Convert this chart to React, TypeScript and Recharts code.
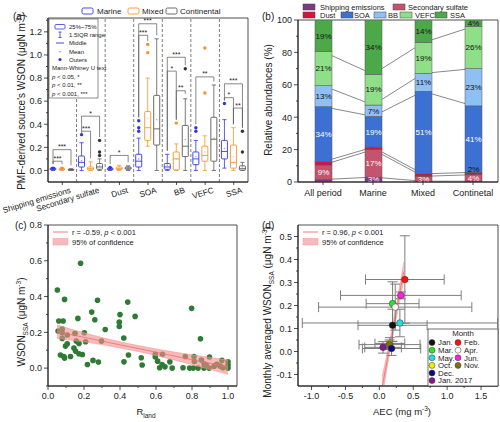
import React from "react";
import {
  ComposedChart,
  Bar,
  Line,
  Area,
  Scatter,
  XAxis,
  YAxis,
  ReferenceLine,
  ReferenceArea,
  ErrorBar,
} from "recharts";

const FONT = "Arial, 'Liberation Sans', Helvetica, sans-serif";
const INK = "#222";
const TICK_FS = 9;

// ---------- (a) source WSON box plots ----------
const sources = ["Shipping emissions", "Secondary sulfate", "Dust", "SOA", "BB", "VEFC", "SSA"];

const marineLo = [0, 0, 0, 0, 0, 0, 0.02];
const marineQ1 = [0.006, 0.03, 0.006, 0.03, 0.01, 0.05, 0.1];
const marineMed = [0.012, 0.07, 0.012, 0.08, 0.03, 0.1, 0.165];
const marineQ3 = [0.02, 0.125, 0.02, 0.14, 0.06, 0.16, 0.26];
const marineHi = [0.025, 0.24, 0.025, 0.28, 0.14, 0.26, 0.44];
const marineMean = [0.013, 0.085, 0.013, 0.1, 0.045, 0.12, 0.19];
const marineOut = [[0.02], [0.31], [0.025], [0.34, 0.37, 0.43], [], [0.34, 0.37], [0.58]];

const mixedLo = [0, 0, 0, 0.21, 0, 0, 0];
const mixedQ1 = [0.005, 0.005, 0.008, 0.26, 0.005, 0.08, 0.02];
const mixedMed = [0.01, 0.015, 0.015, 0.37, 0.1, 0.13, 0.07];
const mixedQ3 = [0.015, 0.03, 0.03, 0.51, 0.16, 0.21, 0.22];
const mixedHi = [0.025, 0.075, 0.045, 0.8, 0.23, 0.3, 0.37];
const mixedMean = [0.01, 0.02, 0.018, 0.45, 0.1, 0.16, 0.12];
const mixedOut = [[0.02], [], [], [1.02, 1.09], [0.41], [0.67, 1.06], []];

const contLo = [0, 0, 0, 0, 0, 0, 0];
const contQ1 = [0.002, 0.01, 0.01, 0.22, 0.12, 0.08, 0.002];
const contMed = [0.005, 0.03, 0.02, 0.36, 0.21, 0.27, 0.015];
const contQ3 = [0.01, 0.06, 0.03, 0.65, 0.39, 0.46, 0.04];
const contHi = [0.015, 0.1, 0.04, 1.14, 0.62, 0.74, 0.07];
const contMean = [0.006, 0.04, 0.02, 0.44, 0.27, 0.28, 0.03];
const contOut = [[], [0.13, 0.16, 0.26], [], [], [0.88], [], [0.16, 0.34]];

// [from series, to series, height, stars]
const sigBrackets = [
  [[0, 1, 0.08, "***"], [0, 2, 0.18, "***"]],
  [[0, 1, 0.34, "***"], [0, 2, 0.47, "*"]],
  [[0, 2, 0.13, "*"]],
  [[0, 1, 1.17, "***"], [0, 2, 1.27, "***"]],
  [[0, 1, 0.86, "*"], [0, 2, 0.98, "***"], [1, 2, 0.69, "**"]],
  [[0, 2, 0.81, "**"]],
  [[0, 1, 0.63, "*"], [0, 2, 0.75, "***"], [1, 2, 0.54, "**"]],
];

const aTicks = [0, 0.1, 0.2, 0.3, 0.4, 0.5, 0.6, 0.7, 0.8, 0.9, 1.0, 1.1, 1.2, 1.3];
const aMajor = [0, 0.2, 0.4, 0.6, 0.8, 1.0, 1.2];

const BOX_W = 6;
const BOX_GAP = 3;

const boxSeries = [
  { key: "marine", name: "Marine", color: "#3434e6", lo: marineLo, q1: marineQ1, med: marineMed, q3: marineQ3, hi: marineHi, mean: marineMean, out: marineOut },
  { key: "mixed", name: "Mixed", color: "#f7932b", lo: mixedLo, q1: mixedQ1, med: mixedMed, q3: mixedQ3, hi: mixedHi, mean: mixedMean, out: mixedOut },
  { key: "cont", name: "Continental", color: "#5a5a5a", lo: contLo, q1: contQ1, med: contMed, q3: contQ3, hi: contHi, mean: contMean, out: contOut },
];

const aData = sources.map((name, idx) => {
  const row: any = { name, idx };
  boxSeries.forEach((s) => {
    row[s.key] = [s.lo[idx], s.hi[idx]];
  });
  return row;
});

// ---------- (b) relative abundances ----------
const periods = ["All period", "Marine", "Mixed", "Continetal"];
const shippingPct = [1.5, 3, 0.5, 0.5];
const sulfatePct = [9, 17, 3, 4];
const dustPct = [2, 1.5, 1.5, 1.5];
const soaPct = [34, 19, 51, 41];
const bbPct = [13, 7, 11, 23];
const vefcPct = [21, 19, 19, 26];
const ssaPct = [19.5, 33.5, 14, 4];

const shippingTxt = ["", "3%", "", ""];
const sulfateTxt = ["9%", "17%", "3%", "4%"];
const dustTxt = ["", "", "", "2%"];
const soaTxt = ["34%", "19%", "51%", "41%"];
const bbTxt = ["13%", "7%", "11%", "23%"];
const vefcTxt = ["21%", "19%", "19%", "26%"];
const ssaTxt = ["19%", "34%", "14%", "4%"];

const bTicks = [0, 10, 20, 30, 40, 50, 60, 70, 80, 90, 100];
const bMajor = [0, 20, 40, 60, 80, 100];

const bParts = [
  { key: "ship", name: "Shipping emissions", vals: shippingPct, txt: shippingTxt, color: "#7a3b84", ink: "#fff" },
  { key: "sulf", name: "Secondary sulfate", vals: sulfatePct, txt: sulfateTxt, color: "#c25470", ink: "#fff" },
  { key: "dust", name: "Dust", vals: dustPct, txt: dustTxt, color: "#d3163d", ink: "#111" },
  { key: "soa", name: "SOA", vals: soaPct, txt: soaTxt, color: "#3c70d3", ink: "#fff" },
  { key: "bb", name: "BB", vals: bbPct, txt: bbTxt, color: "#8fc0f3", ink: "#111" },
  { key: "vefc", name: "VEFC", vals: vefcPct, txt: vefcTxt, color: "#8fdf89", ink: "#111" },
  { key: "ssa", name: "SSA", vals: ssaPct, txt: ssaTxt, color: "#4da84a", ink: "#111" },
];

const bData = periods.map((name, idx) => {
  const row: any = { name, idx };
  let cum = 0;
  bParts.forEach((p) => {
    cum += p.vals[idx];
    row[p.key] = p.vals[idx];
    row[p.key + "Top"] = cum;
  });
  return row;
});

// ---------- (c) WSON_SSA vs R_land ----------
const rLand = [
  0.052, 0.181, 0.06, 0.084, 0.092, 0.166, 0.275, 0.243, 0.26, 0.396, 0.396, 0.318, 0.443, 0.4, 0.484, 0.798,
  0.847, 0.056, 0.079, 0.079, 0.079, 0.107, 0.15, 0.202, 0.157, 0.209, 0.172, 0.297, 0.421, 0.097, 0.107, 0.144,
  0.153, 0.069, 0.088, 0.125, 0.172, 0.191, 0.092, 0.219, 0.25, 0.28, 0.447, 0.422, 0.518, 0.523, 0.596, 0.596,
  0.609, 0.62, 0.636, 0.634, 0.65, 0.677, 0.69, 0.75, 0.763, 0.787, 0.807, 0.834, 0.867, 0.895, 0.811, 0.813,
  0.852, 0.867, 0.879, 0.897, 0.923, 0.938, 0.957, 0.966, 0.972, 1.0, 1.0, 1.0,
];
const wsonSsa = [
  0.437, 0.586, 0.263, 0.263, 0.384, 0.278, 0.379, 0.313, 0.27, 0.257, 0.233, 0.216, 0.369, 0.299, 0.289, 0.334,
  0.164, 0.207, 0.198, 0.22, 0.166, 0.185, 0.194, 0.198, 0.151, 0.147, 0.138, 0.151, 0.168, 0.123, 0.136, 0.112,
  0.095, 0.073, 0.065, 0.065, 0.08, 0.076, 0.056, 0.02, 0.043, 0.034, 0.073, 0.035, 0.058, 0.017, 0.077, 0.062,
  0.039, 0.002, 0.077, 0.02, 0.007, 0.035, 0, 0.002, 0.065, 0, 0, 0, 0, 0, 0.065, 0.037,
  0.045, 0.024, 0.019, 0.062, 0.011, 0.022, 0.011, 0.043, 0.002, 0.035, 0.017, 0,
];
const cFitX = [0.05, 0.2, 0.4, 0.6, 0.8, 1.0];
const cFitY = [0.203, 0.172, 0.13, 0.089, 0.047, 0.005];
const cBandLo = [0.165, 0.147, 0.113, 0.071, 0.02, -0.035];
const cBandHi = [0.241, 0.197, 0.147, 0.107, 0.074, 0.045];
const cxTicks = [0, 0.1, 0.2, 0.3, 0.4, 0.5, 0.6, 0.7, 0.8, 0.9, 1.0];
const cxMajor = [0, 0.2, 0.4, 0.6, 0.8, 1.0];
const cyTicks = [-0.1, 0, 0.1, 0.2, 0.3, 0.4, 0.5, 0.6, 0.7, 0.8];
const cyMajor = [0, 0.2, 0.4, 0.6, 0.8];

const cPoints = rLand.map((x, i) => ({ x, y: wsonSsa[i] }));
const cBand = cFitX.map((x, i) => ({ x, fit: cFitY[i], range: [cBandLo[i], cBandHi[i]] }));

// ---------- (d) monthly WSON_SSA vs AEC ----------
const months = ["Jan.", "Feb.", "Mar.", "Apr.", "May.", "Jun.", "Oct.", "Nov.", "Dec.", "Jan. 2017"];
const monthColors = ["#111111", "#ff1010", "#22e822", "#ffffff", "#22dede", "#ff22dd", "#eeee00", "#7a7410", "#0c0c80", "#86198a"];
const aecMean = [0.195, 0.376, 0.195, 0.234, 0.303, 0.317, 0.155, 0.15, 0.18, 0.055];
const aecSd = [0.51, 0.58, 0.39, 1.13, 1.44, 0.89, 0.22, 0.45, 0.43, 0.27];
const wsonMean = [0.114, 0.313, 0.208, 0.193, 0.124, 0.244, 0.035, 0.03, 0.013, 0.018];
const wsonSd = [0.07, 0.19, 0.095, 0.1, 0.06, 0.015, 0.025, 0.02, 0.03, 0.025];
const dFitX = [0.04, 0.1, 0.17, 0.25, 0.36];
const dFitY = [-0.158, -0.063, 0.047, 0.174, 0.348];
const dBandLo = [-0.208, -0.098, 0.022, 0.144, 0.308];
const dBandHi = [-0.108, -0.028, 0.072, 0.204, 0.388];
const dxTicks = [-1, -0.75, -0.5, -0.25, 0, 0.25, 0.5, 0.75, 1, 1.25, 1.5];
const dxMajor = [-1, -0.5, 0, 0.5, 1, 1.5];
const dyTicks = [-0.1, -0.05, 0, 0.05, 0.1, 0.15, 0.2, 0.25, 0.3, 0.35, 0.4, 0.45, 0.5];
const dyMajor = [-0.1, 0, 0.1, 0.2, 0.3, 0.4, 0.5];
// legend layout: left column and right column of the Month box
const monthLeftCol = ["Jan.", "Mar.", "May.", "Oct.", "Dec.", "Jan. 2017"];
const monthRightCol = ["Feb.", "Apr.", "Jun.", "Nov."];

const dPoints = months.map((m, i) => ({
  month: m,
  color: monthColors[i],
  x: aecMean[i],
  y: wsonMean[i],
  ex: aecSd[i],
  ey: wsonSd[i],
}));
const dBand = dFitX.map((x, i) => ({ x, fit: dFitY[i], range: [dBandLo[i], dBandHi[i]] }));

// ---------- shared pieces ----------
const isMajor = (majors: number[], v: number) => majors.some((m) => Math.abs(m - v) < 1e-9);
const fmt1 = (v: number) => v.toFixed(1);

function YTick(props: any) {
  const { x, y, payload, majors, fmt } = props;
  const v = payload.value;
  const major = isMajor(majors, v);
  return (
    <g>
      <line x1={x - (major ? 4 : 2)} x2={x} y1={y} y2={y} stroke={INK} strokeWidth={0.8} />
      {major && (
        <text x={x - 6} y={y + 3.3} textAnchor="end" fontSize={TICK_FS} fill={INK} fontFamily={FONT}>
          {fmt(v)}
        </text>
      )}
    </g>
  );
}

function XTick(props: any) {
  const { x, y, payload, majors, fmt } = props;
  const v = payload.value;
  const major = isMajor(majors, v);
  return (
    <g>
      <line x1={x} x2={x} y1={y} y2={y + (major ? 4 : 2)} stroke={INK} strokeWidth={0.8} />
      {major && (
        <text x={x} y={y + 13} textAnchor="middle" fontSize={TICK_FS} fill={INK} fontFamily={FONT}>
          {fmt(v)}
        </text>
      )}
    </g>
  );
}

function CatTickA(props: any) {
  const { x, y, payload } = props;
  const tx = x + 9;
  const ty = y + 10.5;
  return (
    <g>
      <line x1={x} x2={x} y1={y} y2={y + 3} stroke={INK} strokeWidth={0.8} />
      <text x={tx} y={ty} textAnchor="end" transform={`rotate(-17 ${tx} ${ty})`} fontSize={8.2} fill={INK} fontFamily={FONT}>
        {payload.value}
      </text>
    </g>
  );
}

function CatTickB(props: any) {
  const { x, y, payload } = props;
  return (
    <g>
      <line x1={x} x2={x} y1={y} y2={y + 3} stroke={INK} strokeWidth={0.8} />
      <text x={x} y={y + 14} textAnchor="middle" fontSize={9} fill={INK} fontFamily={FONT}>
        {payload.value}
      </text>
    </g>
  );
}

function BoxShape(props: any) {
  const { x, y, width, height, payload, s } = props;
  const ser = boxSeries[s];
  const i = payload.idx;
  const lo = ser.lo[i];
  const hi = ser.hi[i];
  const top = Math.min(y, y + height);
  const span = Math.abs(height);
  const py = (v: number) => top + ((hi - v) / (hi - lo)) * span;
  const cx = x + width / 2;
  const cap = width * 0.35;
  const yHi = py(hi);
  const yLo = py(lo);
  const yQ3 = py(ser.q3[i]);
  const yQ1 = py(ser.q1[i]);
  const yMed = py(ser.med[i]);
  const yMean = py(ser.mean[i]);
  const c = ser.color;

  const brackets: any[] = [];
  if (s === boxSeries.length - 1) {
    const n = boxSeries.length;
    const centers = boxSeries.map((_, k) => cx - (n - 1 - k) * (BOX_W + BOX_GAP));
    const tops = boxSeries.map((b) => Math.max(b.hi[i], ...b.out[i]));
    sigBrackets[i].forEach((br: any, k: number) => {
      const [a, b, v, lab] = br;
      const yb = py(v);
      const legA = Math.max(py(tops[a] + 0.03), yb + 3);
      const legB = Math.max(py(tops[b] + 0.03), yb + 3);
      brackets.push(
        <g key={`br${k}`}>
          <path
            d={`M${centers[a]},${legA} V${yb} H${centers[b]} V${legB}`}
            fill="none"
            stroke="#555"
            strokeWidth={0.7}
          />
          <text x={(centers[a] + centers[b]) / 2} y={yb - 0.5} textAnchor="middle" fontSize={7} fill={INK} fontFamily={FONT}>
            {lab}
          </text>
        </g>
      );
    });
  }

  return (
    <g>
      <line x1={cx} x2={cx} y1={yHi} y2={yQ3} stroke={c} strokeWidth={0.8} />
      <line x1={cx} x2={cx} y1={yQ1} y2={yLo} stroke={c} strokeWidth={0.8} />
      <line x1={cx - cap} x2={cx + cap} y1={yHi} y2={yHi} stroke={c} strokeWidth={0.8} />
      <line x1={cx - cap} x2={cx + cap} y1={yLo} y2={yLo} stroke={c} strokeWidth={0.8} />
      <rect x={x} y={yQ3} width={width} height={Math.max(yQ1 - yQ3, 0.6)} rx={0.8} fill="#fff" stroke={c} strokeWidth={0.9} />
      <line x1={x} x2={x + width} y1={yMed} y2={yMed} stroke={c} strokeWidth={0.9} />
      <rect x={cx - 0.7} y={yMean - 0.7} width={1.4} height={1.4} fill={c} opacity={0.45} />
      {ser.out[i].map((o: number, k: number) => (
        <circle key={k} cx={cx} cy={py(o)} r={1.7} fill={s === 2 ? "#333" : c} />
      ))}
      {brackets}
    </g>
  );
}

function SegShape(props: any) {
  const { x, y, width, height, payload, partIdx } = props;
  const part = bParts[partIdx];
  const h = Math.abs(height);
  const top = Math.min(y, y + height);
  const labels: any[] = [];
  if (partIdx === bParts.length - 1) {
    // all segment labels are placed from the top segment so none is hidden under a later bar
    const ppu = h / payload[part.key];
    const base = top + h + payload[bParts[partIdx - 1].key + "Top"] * ppu;
    bParts.forEach((p, k) => {
      const t = p.txt[payload.idx];
      if (!t) return;
      const segH = payload[p.key] * ppu;
      const segTop = base - payload[p.key + "Top"] * ppu;
      const cy = segH < 4 ? segTop - 3.2 : segTop + segH / 2;
      labels.push(
        <text key={k} x={x + width / 2} y={cy + 2.8} textAnchor="middle" fontSize={8} fill={p.ink} fontFamily={FONT}>
          {t}
        </text>
      );
    });
  }
  return (
    <g>
      <rect x={x} y={top} width={width} height={h} fill={part.color} stroke="#555" strokeWidth={0.5} />
      {labels}
    </g>
  );
}

function PanelA() {
  // svg is a bit taller than the panel so the slanted category names are not clipped
  return (
    <ComposedChart width={250} height={224} data={aData} margin={{ top: 18, right: 2, bottom: 0, left: 8 }} barGap={BOX_GAP}>
      <XAxis dataKey="name" height={42} interval={0} tickSize={0} tickMargin={0} tickLine={false} stroke={INK} tick={(p: any) => <CatTickA {...p} />} />
      <YAxis
        width={40}
        domain={[-0.1, 1.32]}
        allowDataOverflow
        ticks={aTicks}
        interval={0}
        tickSize={0}
        tickMargin={0}
        tickLine={false}
        stroke={INK}
        tick={(p: any) => <YTick {...p} majors={aMajor} fmt={fmt1} />}
      />
      <ReferenceArea y1={-0.1} y2={1.32} fill="none" stroke={INK} strokeWidth={0.8} />
      {sources.slice(0, -1).map((s) => (
        <ReferenceLine key={s} x={s} position="end" stroke="#444" strokeDasharray="3 2" strokeWidth={0.7} />
      ))}
      {boxSeries.map((s, k) => (
        <Bar key={s.key} dataKey={s.key} barSize={BOX_W} isAnimationActive={false} shape={(p: any) => <BoxShape {...p} s={k} />} />
      ))}
    </ComposedChart>
  );
}

function PanelB() {
  return (
    <ComposedChart width={250} height={211} data={bData} margin={{ top: 20, right: 2, bottom: 0, left: 8 }}>
      <XAxis dataKey="name" height={29} interval={0} tickSize={0} tickMargin={0} tickLine={false} stroke={INK} tick={(p: any) => <CatTickB {...p} />} />
      <YAxis
        width={40}
        domain={[0, 100]}
        allowDataOverflow
        ticks={bTicks}
        interval={0}
        tickSize={0}
        tickMargin={0}
        tickLine={false}
        stroke={INK}
        tick={(p: any) => <YTick {...p} majors={bMajor} fmt={(v: number) => String(v)} />}
      />
      <ReferenceArea y1={0} y2={100} fill="none" stroke={INK} strokeWidth={0.8} />
      {bParts.slice(0, -1).map((p) => (
        <Line
          key={p.key + "Line"}
          dataKey={p.key + "Top"}
          stroke="#6a6a6a"
          strokeWidth={0.8}
          dot={false}
          activeDot={false}
          isAnimationActive={false}
          zIndex={250}
        />
      ))}
      {bParts.map((p, k) => (
        <Bar
          key={p.key}
          dataKey={p.key}
          stackId="s"
          barSize={17}
          fill={p.color}
          isAnimationActive={false}
          shape={(sp: any) => <SegShape {...sp} partIdx={k} />}
        />
      ))}
    </ComposedChart>
  );
}

function PanelC() {
  return (
    <ComposedChart width={250} height={211} margin={{ top: 14, right: 13, bottom: 0, left: 8 }}>
      <XAxis
        type="number"
        dataKey="x"
        domain={[0, 1.05]}
        allowDataOverflow
        ticks={cxTicks}
        interval={0}
        height={36}
        tickSize={0}
        tickMargin={0}
        tickLine={false}
        stroke={INK}
        tick={(p: any) => <XTick {...p} majors={cxMajor} fmt={fmt1} />}
      />
      <YAxis
        type="number"
        dataKey="y"
        width={40}
        domain={[-0.1, 0.8]}
        allowDataOverflow
        ticks={cyTicks}
        interval={0}
        tickSize={0}
        tickMargin={0}
        tickLine={false}
        stroke={INK}
        tick={(p: any) => <YTick {...p} majors={cyMajor} fmt={fmt1} />}
      />
      <ReferenceArea x1={0} x2={1.05} y1={-0.1} y2={0.8} fill="none" stroke={INK} strokeWidth={0.8} />
      <Scatter
        data={cPoints}
        dataKey="y"
        isAnimationActive={false}
        zIndex={300}
        shape={(p: any) => <circle cx={p.cx} cy={p.cy} r={2.8} fill="#2d7b34" />}
      />
      <Area
        data={cBand}
        dataKey="range"
        type="monotone"
        fill="#f28a8a"
        fillOpacity={0.6}
        stroke="#f29a9a"
        strokeWidth={0.6}
        isAnimationActive={false}
        zIndex={700}
      />
      <Line data={cBand} dataKey="fit" type="linear" stroke="#ef6f6f" strokeWidth={0.8} dot={false} activeDot={false} isAnimationActive={false} zIndex={710} />
    </ComposedChart>
  );
}

function PanelD() {
  return (
    <ComposedChart width={250} height={211} margin={{ top: 14, right: 2, bottom: 0, left: 8 }}>
      <XAxis
        type="number"
        dataKey="x"
        domain={[-1.2, 1.75]}
        allowDataOverflow
        ticks={dxTicks}
        interval={0}
        height={36}
        tickSize={0}
        tickMargin={0}
        tickLine={false}
        stroke={INK}
        tick={(p: any) => <XTick {...p} majors={dxMajor} fmt={fmt1} />}
      />
      <YAxis
        type="number"
        dataKey="y"
        width={40}
        domain={[-0.15, 0.55]}
        allowDataOverflow
        ticks={dyTicks}
        interval={0}
        tickSize={0}
        tickMargin={0}
        tickLine={false}
        stroke={INK}
        tick={(p: any) => <YTick {...p} majors={dyMajor} fmt={fmt1} />}
      />
      <ReferenceArea x1={-1.2} x2={1.75} y1={-0.15} y2={0.55} fill="none" stroke={INK} strokeWidth={0.8} />
      <Area
        data={dBand}
        dataKey="range"
        type="monotone"
        fill="#f28a8a"
        fillOpacity={0.6}
        stroke="#f29a9a"
        strokeWidth={0.5}
        isAnimationActive={false}
      />
      <Line data={dBand} dataKey="fit" type="linear" stroke="#ef6f6f" strokeWidth={0.8} dot={false} activeDot={false} isAnimationActive={false} />
      <Scatter
        data={dPoints}
        dataKey="y"
        isAnimationActive={false}
        shape={(p: any) => <circle cx={p.cx} cy={p.cy} r={3.3} fill={p.payload.color} stroke="#333" strokeWidth={0.5} />}
      >
        <ErrorBar dataKey="ex" direction="x" width={5} stroke="#7d7d7d" strokeWidth={1} />
        <ErrorBar dataKey="ey" direction="y" width={5} stroke="#7d7d7d" strokeWidth={1} />
      </Scatter>
    </ComposedChart>
  );
}

function MonthKey({ name, cx, cy }: { name: string; cx: number; cy: number }) {
  const i = months.indexOf(name);
  return (
    <g>
      <circle cx={cx} cy={cy} r={3} fill={monthColors[i]} stroke="#333" strokeWidth={0.5} />
      <text x={cx + 6} y={cy + 2.7} fontSize={7.8} fontFamily={FONT} fill={INK}>
        {name}
      </text>
    </g>
  );
}

function Overlay() {
  const t = { fontFamily: FONT, fill: INK };
  return (
    <svg width={500} height={422} style={{ position: "absolute", left: 0, top: 0, pointerEvents: "none" }}>
      {/* panel tags */}
      <text x={13} y={20} fontSize={10} {...t}>(a)</text>
      <text x={262} y={20} fontSize={10} {...t}>(b)</text>
      <text x={15} y={229} fontSize={10} {...t}>(c)</text>
      <text x={262} y={229} fontSize={10} {...t}>(d)</text>

      {/* axis titles */}
      <text transform="translate(25,102) rotate(-90)" textAnchor="middle" fontSize={10} {...t}>
        PMF-derived source's WSON (μgN m<tspan dy={-4} fontSize={6.5}>-3</tspan>
        <tspan dy={4}>)</tspan>
      </text>
      <text transform="translate(272,100) rotate(-90)" textAnchor="middle" fontSize={10} {...t}>
        Relative abundances (%)
      </text>
      <text transform="translate(25,322) rotate(-90)" textAnchor="middle" fontSize={10} {...t}>
        WSON<tspan dy={3} fontSize={6.5}>SSA</tspan>
        <tspan dy={-3}> (μgN m</tspan>
        <tspan dy={-4} fontSize={6.5}>-3</tspan>
        <tspan dy={4}>)</tspan>
      </text>
      <text transform="translate(271,312) rotate(-90)" textAnchor="middle" fontSize={10} {...t}>
        Monthly averaged WSON<tspan dy={3} fontSize={6.5}>SSA</tspan>
        <tspan dy={-3}> (μgN m</tspan>
        <tspan dy={-4} fontSize={6.5}>-3</tspan>
        <tspan dy={4}>)</tspan>
      </text>
      <text x={146} y={415} textAnchor="middle" fontSize={9.5} {...t}>
        R<tspan dy={3} fontSize={6.5}>land</tspan>
      </text>
      <text x={402} y={415} textAnchor="middle" fontSize={9.5} {...t}>
        AEC  (mg m<tspan dy={-4} fontSize={6.5}>-3</tspan>
        <tspan dy={4}>)</tspan>
      </text>

      {/* (a) top legend */}
      {[
        [82, 97],
        [128, 142],
        [166, 180],
      ].map(([ix, tx], k) => (
        <g key={k}>
          <rect x={ix} y={8} width={11} height={6} rx={1.5} fill="#fff" stroke={boxSeries[k].color} strokeWidth={0.9} />
          <text x={tx} y={13.7} fontSize={8} {...t}>{boxSeries[k].name}</text>
        </g>
      ))}

      {/* (a) inner legend */}
      <rect x={49} y={19} width={49} height={79} fill="#fff" stroke="#444" strokeWidth={0.6} />
      <rect x={55} y={24.5} width={10} height={4.5} rx={1} fill="#fff" stroke="#3434e6" strokeWidth={0.8} />
      <path d="M58.5,32 H61.5 M60,32 V37.5 M58.5,37.5 H61.5" stroke="#3434e6" strokeWidth={0.8} fill="none" />
      <line x1={56} x2={64} y1={43} y2={43} stroke="#3434e6" strokeWidth={0.9} />
      <rect x={59.3} y={51} width={1.4} height={1.4} fill="#9a9ad8" />
      <circle cx={60} cy={59.5} r={1.6} fill="#3434e6" />
      <text x={69} y={29} fontSize={6} {...t}>25%~75%</text>
      <text x={69} y={37} fontSize={6} {...t}>1.5IQR range</text>
      <text x={69} y={45.2} fontSize={6} {...t}>Middle</text>
      <text x={69} y={53.5} fontSize={6} {...t}>Mean</text>
      <text x={69} y={61.8} fontSize={6} {...t}>Outers</text>
      <text x={52} y={70} fontSize={6} {...t}>Mann-Whiney U text</text>
      <text x={52} y={78.5} fontSize={6} {...t}><tspan fontStyle="italic">p</tspan> &lt; 0.05, *</text>
      <text x={52} y={87} fontSize={6} {...t}><tspan fontStyle="italic">p</tspan> &lt; 0.01, **</text>
      <text x={52} y={95.5} fontSize={6} {...t}><tspan fontStyle="italic">p</tspan> &lt; 0.001, ***</text>

      {/* (b) legend */}
      {[
        [0, 303, 320, 4],
        [1, 393, 408, 4],
        [2, 303, 320, 12],
        [3, 341, 354, 12],
        [4, 374, 388, 12],
        [5, 400, 415, 12],
        [6, 435, 450, 12],
      ].map(([k, ix, tx, yy]) => (
        <g key={k}>
          <rect x={ix} y={yy} width={12} height={6} fill={bParts[k].color} stroke="#444" strokeWidth={0.5} />
          <text x={tx} y={yy + 5.8} fontSize={7.5} {...t}>{bParts[k].name}</text>
        </g>
      ))}

      {/* (c) legend */}
      <line x1={53} x2={68} y1={232} y2={232} stroke="#ef6f6f" strokeWidth={0.9} />
      <text x={72} y={234.7} fontSize={7.5} {...t}>
        r = -0.59, <tspan fontStyle="italic">p</tspan> &lt; 0.001
      </text>
      <rect x={53} y={238.5} width={15} height={6.5} fill="#f28a8a" fillOpacity={0.6} stroke="#f29a9a" strokeWidth={0.5} />
      <text x={72} y={244.5} fontSize={7.5} {...t}>95% of confidence</text>

      {/* (d) legend */}
      <line x1={303} x2={318} y1={232} y2={232} stroke="#ef6f6f" strokeWidth={0.9} />
      <text x={322} y={234.7} fontSize={7.5} {...t}>
        r = 0.96, <tspan fontStyle="italic">p</tspan> &lt; 0.001
      </text>
      <rect x={303} y={238.5} width={15} height={6.5} fill="#f28a8a" fillOpacity={0.6} stroke="#f29a9a" strokeWidth={0.5} />
      <text x={322} y={244.5} fontSize={7.5} {...t}>95% of confidence</text>

      {/* (d) month box */}
      <rect x={428} y={329} width={70} height={57} fill="#fff" stroke="#333" strokeWidth={0.7} />
      <text x={463} y={335.8} textAnchor="middle" fontSize={7.8} {...t}>Month</text>
      {monthLeftCol.map((m, r) => (
        <MonthKey key={m} name={m} cx={432} cy={342.6 + r * 7.6} />
      ))}
      {monthRightCol.map((m, r) => (
        <MonthKey key={m} name={m} cx={458} cy={342.6 + r * 7.6} />
      ))}
    </svg>
  );
}

export default function App() {
  return (
    <div style={{ position: "absolute", left: 0, top: 0, width: 500, height: 422, background: "#fff", fontFamily: FONT }}>
      <div style={{ position: "absolute", left: 250, top: 0 }}>
        <PanelB />
      </div>
      <div style={{ position: "absolute", left: 0, top: 211 }}>
        <PanelC />
      </div>
      <div style={{ position: "absolute", left: 250, top: 211 }}>
        <PanelD />
      </div>
      <div style={{ position: "absolute", left: 0, top: 0 }}>
        <PanelA />
      </div>
      <Overlay />
    </div>
  );
}
